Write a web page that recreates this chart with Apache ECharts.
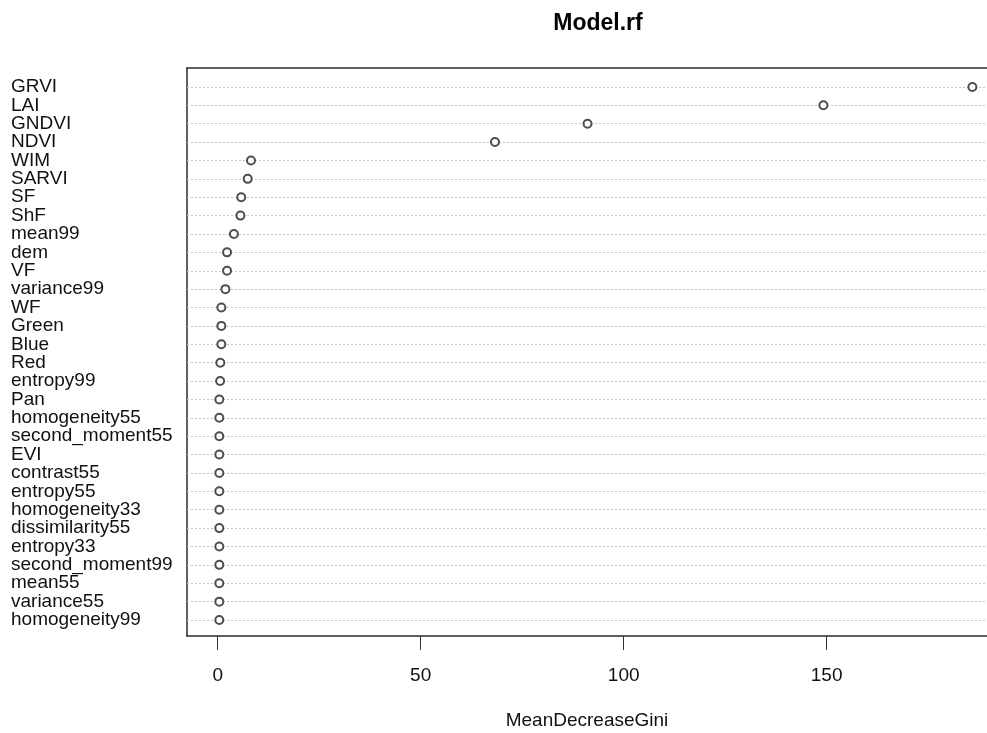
<!DOCTYPE html>
<html>
<head>
<meta charset="utf-8">
<script src="https://cdn.jsdelivr.net/npm/echarts@6/dist/echarts.min.js"></script>
<style>html,body{margin:0;padding:0;background:#fff}#c{width:987px;height:733px}</style>
</head>
<body>
<div id="c"></div>
<script>
// Variables, listed top to bottom as in the dot chart
const labels = ["GRVI","LAI","GNDVI","NDVI","WIM","SARVI","SF","ShF","mean99","dem","VF","variance99","WF","Green","Blue","Red","entropy99","Pan","homogeneity55","second_moment55","EVI","contrast55","entropy55","homogeneity33","dissimilarity55","entropy33","second_moment99","mean55","variance55","homogeneity99"];
const meanDecreaseGini = [185.9,149.2,91.1,68.3,8.2,7.4,5.8,5.6,4.0,2.3,2.3,1.9,0.9,0.9,0.9,0.65,0.6,0.4,0.4,0.4,0.4,0.4,0.4,0.4,0.4,0.4,0.4,0.4,0.4,0.4];
const xTicks = [0,50,100,150];
const titleText = "Model.rf";
const xName = "MeanDecreaseGini";

const n = labels.length;
const rowPos = labels.map((l,i)=>n-i);
const points = labels.map((l,i)=>[meanDecreaseGini[i], rowPos[i]]);
const font = "'Liberation Sans', Arial, sans-serif";
const boxLine = {show: true, onZero: false, lineStyle: {color: '#2a2a2a', width: 1.5}};
const yMin = 0.13, yMax = 31.03;

function yLabelAxis(values, showLine) {
  return {
    type: 'value', min: yMin, max: yMax, position: 'left', offset: 0,
    axisLine: showLine ? boxLine : {show: false, onZero: false},
    splitLine: {show: false},
    axisTick: {show: false},
    axisLabel: {
      customValues: values, align: 'left', margin: 176,
      showMinLabel: true, showMaxLabel: true, hideOverlap: false,
      fontFamily: font, fontSize: 19, color: '#111',
      formatter: v => labels[n - v]
    }
  };
}

const chart = echarts.init(document.getElementById('c'));
chart.setOption({
  animation: false,
  backgroundColor: '#fff',
  title: {
    text: titleText, left: 593, top: 7, textAlign: 'center',
    textStyle: {fontFamily: font, fontSize: 23, fontWeight: 'bold', color: '#000'}
  },
  grid: {
    left: 187, top: 68, right: 0, bottom: 97, show: false,
    containLabel: false, outerBoundsMode: 'none'
  },
  xAxis: [{
    type: 'value', min: -7.56, max: 189.5, position: 'bottom',
    axisLine: boxLine,
    splitLine: {show: false},
    axisTick: {show: true, customValues: xTicks, length: 14, lineStyle: {color: '#333', width: 1}},
    axisLabel: {customValues: xTicks, margin: 30, fontFamily: font, fontSize: 19, color: '#111'},
    name: xName, nameLocation: 'middle', nameGap: 75,
    nameTextStyle: {fontFamily: font, fontSize: 19, color: '#111'}
  }, {
    type: 'value', min: -7.56, max: 189.5, position: 'top',
    axisLine: boxLine, axisTick: {show: false}, axisLabel: {show: false}, splitLine: {show: false}
  }],
  yAxis: [
    yLabelAxis(rowPos.filter((p,i)=>i%2===0), true),
    yLabelAxis(rowPos.filter((p,i)=>i%2===1), false)
  ],
  series: [
    {
      type: 'scatter', data: [], silent: true, z: 1, yAxisIndex: 0,
      markLine: {
        silent: true, symbol: ['none','none'], label: {show: false},
        lineStyle: {color: '#c4c4c4', type: [2,2], width: 1},
        data: rowPos.map(p => ({yAxis: p}))
      }
    },
    {
      type: 'scatter', data: points, z: 5, yAxisIndex: 0,
      symbol: 'emptyCircle', symbolSize: 8,
      itemStyle: {color: '#222', borderColor: '#222', borderWidth: 1}
    }
  ]
});
</script>
</body>
</html>
